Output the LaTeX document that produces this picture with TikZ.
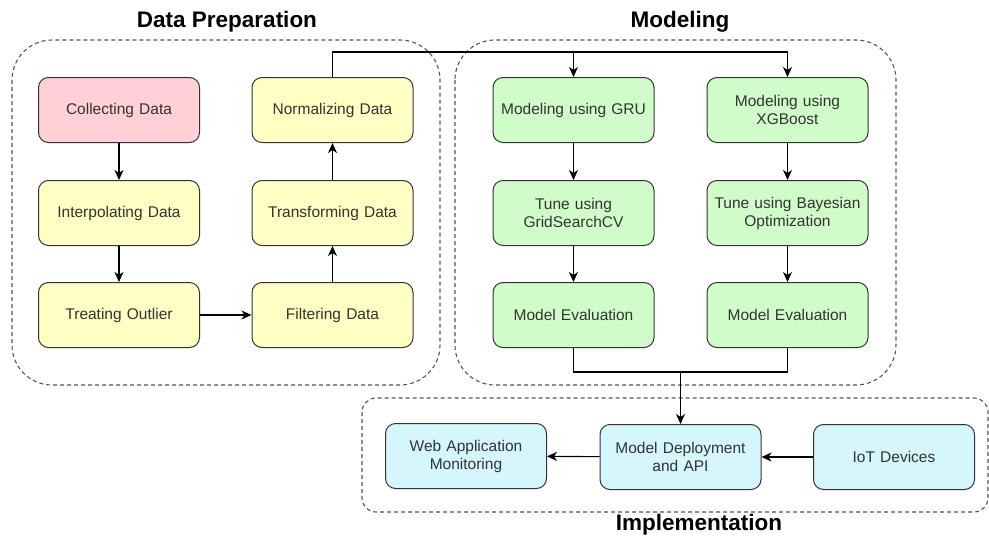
\documentclass[tikz,border=0pt]{standalone}
\usepackage{fontspec}
\setmainfont{Liberation Sans}
\usetikzlibrary{arrows.meta}
\definecolor{boxline}{HTML}{333333}
\definecolor{boxtext}{HTML}{333333}
\definecolor{pinkfill}{HTML}{FFD0D6}
\definecolor{yellowfill}{HTML}{FFFFC4}
\definecolor{greenfill}{HTML}{CFFCC8}
\definecolor{bluefill}{HTML}{D4F6FC}
\definecolor{groupline}{HTML}{555555}
\tikzset{
  stepbox/.style={draw=boxline, line width=1pt, rounded corners=10pt,
    minimum width=161pt, minimum height=65pt, inner sep=0pt,
    text width=155pt, align=center, text=boxtext, font=\fontsize{15.5}{18}\selectfont},
  prepbox/.style={stepbox, fill=yellowfill},
  startbox/.style={stepbox, fill=pinkfill},
  modelbox/.style={stepbox, fill=greenfill},
  implbox/.style={stepbox, fill=bluefill},
  group/.style={draw=groupline, line width=1.1pt, dash pattern=on 4pt off 3pt},
  grouptitle/.style={font=\bfseries\fontsize{22.5}{26}\selectfont, text=black},
  flow/.style={draw=black, line width=1.1pt, -{Stealth[length=10pt,width=9pt,inset=3pt]}},
  link/.style={draw=black, line width=1.1pt}
}
\begin{document}
\begin{tikzpicture}[x=1pt,y=-1pt]
\useasboundingbox (0,0) rectangle (989,536);

% group frames
\draw[group, rounded corners=40pt] (12,40) rectangle (440,385);
\draw[group, rounded corners=40pt] (455,40) rectangle (896,385);
\draw[group, rounded corners=14pt] (362,398) rectangle (988,512);

\node[grouptitle] (tprep) at (227,22) {Data Preparation};
\node[grouptitle] (tmodel) at (680,22) {Modeling};
\node[grouptitle] (timpl) at (699,525) {Implementation};

% data preparation
\node[startbox] (collect) at (119,110) {Collecting Data};
\node[prepbox] (interp) at (119,213) {Interpolating Data};
\node[prepbox] (outlier) at (119,315) {Treating Outlier};
\node[prepbox] (filter) at (332.5,315) {Filtering Data};
\node[prepbox] (transform) at (332.5,213) {Transforming Data};
\node[prepbox] (normal) at (332.5,110) {Normalizing Data};

% modeling
\node[modelbox] (gru) at (573.5,110) {Modeling using GRU};
\node[modelbox] (xgb) at (787.5,110) {Modeling using\\XGBoost};
\node[modelbox] (tunegru) at (573.5,213) {Tune using\\GridSearchCV};
\node[modelbox] (tunexgb) at (787.5,213) {Tune using Bayesian\\Optimization};
\node[modelbox] (evalgru) at (573.5,315) {Model Evaluation};
\node[modelbox] (evalxgb) at (787.5,315) {Model Evaluation};

% implementation
\node[implbox] (web) at (466,456) {Web Application\\Monitoring};
\node[implbox] (deploy) at (680.5,457) {Model Deployment\\and API};
\node[implbox] (iot) at (894,457) {IoT Devices};

% connectors
\coordinate (split) at (332.5,52);
\coordinate (join) at (680.5,372);

\draw[flow] (collect) -- (interp);
\draw[flow] (interp) -- (outlier);
\draw[flow] (outlier) -- (filter);
\draw[flow] (filter) -- (transform);
\draw[flow] (transform) -- (normal);

\draw[link] (normal.north) -- (split) -- (split -| xgb.north);
\draw[flow] (split -| gru.north) -- (gru.north);
\draw[flow] (split -| xgb.north) -- (xgb.north);

\draw[flow] (gru) -- (tunegru);
\draw[flow] (tunegru) -- (evalgru);
\draw[flow] (xgb) -- (tunexgb);
\draw[flow] (tunexgb) -- (evalxgb);

\draw[link] (evalgru.south) -- (evalgru.south |- join) -- (evalxgb.south |- join) -- (evalxgb.south);
\draw[flow] (join) -- (deploy.north);

\draw[flow] (iot) -- (deploy);
\draw[flow] (deploy) -- (web);
\end{tikzpicture}
\end{document}
